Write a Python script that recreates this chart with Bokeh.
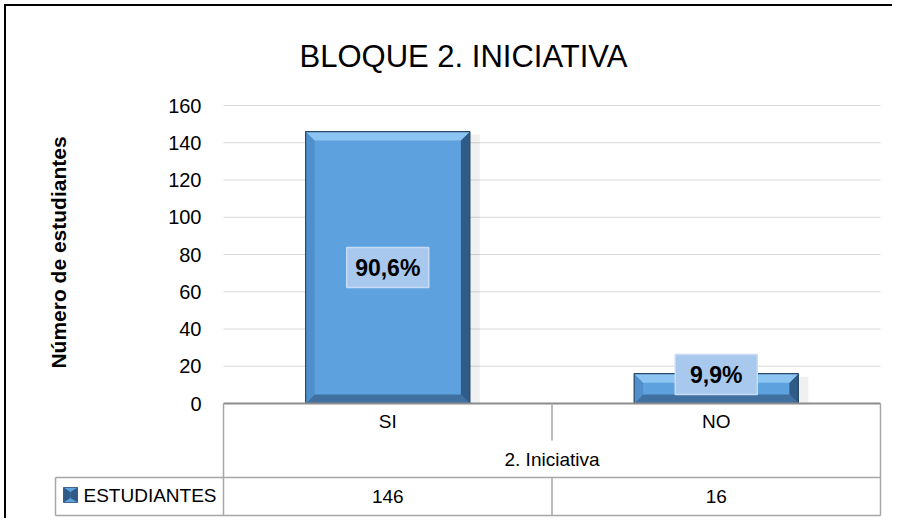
import math
from bokeh.plotting import figure
from bokeh.models import Range1d, LinearAxis, FixedTicker, Grid
from bokeh.core.properties import value
from bokeh.embed import file_html
from bokeh.resources import INLINE

# ---------------- data ----------------
categories = ["SI", "NO"]
estudiantes = [146, 16]
porcentajes = ["90,6%", "9,9%"]
y_ticks = [0, 20, 40, 60, 80, 100, 120, 140, 160]
group_label = "2. Iniciativa"
series_name = "ESTUDIANTES"
title_text = "BLOQUE 2. INICIATIVA"
y_label = "Número de estudiantes"

# ---------------- layout (page pixels) ----------------
W, H = 888, 514
TOP = 72
OFF = 6
PX0, PX1 = 223, 880          # plot area left/right
PY0, PYMAX = 403, 105        # y of value 0 and of value 160
YMAX = 160
n = len(categories)
sx = (PX1 - PX0) / n
sy = (PY0 - PYMAX) / YMAX


def dx(px):
    return (px - PX0) / sx


def dy(py):
    return (PY0 - py) / sy


FONT = value("Liberation Sans")

p = figure(width=W, height=H,
           x_range=Range1d(dx(OFF), dx(OFF + W)),
           y_range=Range1d(dy(OFF + H), dy(OFF + TOP)),
           output_backend="svg", toolbar_location=None,
           x_axis_location=None, y_axis_location=None,
           min_border_left=0, min_border_right=0, min_border_bottom=0,
           min_border_top=TOP)
for r in p.center:
    if isinstance(r, Grid):
        r.visible = False
p.outline_line_color = None
p.background_fill_color = "white"
p.border_fill_color = "white"
p.styles = {"margin-left": "4px", "margin-top": "4px",
            "border-left": "2px solid #000", "border-top": "2px solid #000"}

p.title.text = title_text
p.title.text_font = "Liberation Sans"
p.title.text_font_size = "31px"
p.title.text_font_style = "normal"
p.title.text_color = "#000000"
p.title.align = "left"
p.title.offset = 299 - OFF
p.title.standoff = 10

# y axis (fixed at category-axis start)
yaxis = LinearAxis(ticker=FixedTicker(ticks=y_ticks), fixed_location=0,
                   axis_line_color=None, major_tick_line_color=None,
                   minor_tick_line_color=None, major_tick_out=0,
                   major_label_standoff=22,
                   major_label_text_font="Liberation Sans",
                   major_label_text_font_size="20px",
                   major_label_text_color="#000000")
p.add_layout(yaxis, "left")

# gridlines
grid_ticks = [t for t in y_ticks if t > 0]
p.segment(x0=[0] * len(grid_ticks), x1=[n] * len(grid_ticks),
          y0=grid_ticks, y1=grid_ticks, line_color="#d9d9d9", line_width=1)

# bars with bevel
xc = [i + 0.5 for i in range(n)]
bw = 0.5
bx = 9 / sx
by = 9 / sy

# shadow at right
p.quad(left=[x + bw / 2 for x in xc], right=[x + bw / 2 + 10 / sx for x in xc],
       bottom=[0] * n, top=[v - 3 / sy for v in estudiantes],
       fill_color="#000000", fill_alpha=0.06, line_color=None)

p.vbar(x=xc, top=estudiantes, bottom=0, width=bw,
       fill_color="#5ea1df", line_color=None)

tops_x, tops_y, bots_x, bots_y = [], [], [], []
lefts_x, lefts_y, rights_x, rights_y = [], [], [], []
for x, v in zip(xc, estudiantes):
    x0, x1 = x - bw / 2, x + bw / 2
    y0, y1 = 0, v
    tops_x.append([x0, x1, x1 - bx, x0 + bx]); tops_y.append([y1, y1, y1 - by, y1 - by])
    bots_x.append([x0, x1, x1 - bx, x0 + bx]); bots_y.append([y0, y0, y0 + by, y0 + by])
    lefts_x.append([x0, x0, x0 + bx, x0 + bx]); lefts_y.append([y0, y1, y1 - by, y0 + by])
    rights_x.append([x1, x1, x1 - bx, x1 - bx]); rights_y.append([y0, y1, y1 - by, y0 + by])

p.patches(lefts_x, lefts_y, fill_color="#4f8fcc", line_color=None)
p.patches(rights_x, rights_y, fill_color="#2f5b86", line_color=None)
p.patches(tops_x, tops_y, fill_color="#8cc4f2", line_color=None)
p.patches(bots_x, bots_y, fill_color="#3f70a0", line_color=None)
p.vbar(x=xc, top=estudiantes, bottom=0, width=bw,
       fill_color=None, line_color="#27496c", line_width=1.2)

# data labels
min_label = dy(PY0 - 29)
label_y = [max(v / 2, min_label) for v in estudiantes]
p.rect(x=xc, y=label_y, width=82, height=40, width_units="screen",
       height_units="screen", fill_color="#a8c8ee", line_color="#c6dcf4",
       line_width=1.5)
p.text(x=xc, y=label_y, text=porcentajes, text_font=FONT,
       text_font_style="bold", text_font_size="23px", text_align="center",
       text_baseline="middle", text_color="#000000")

# axis line at zero
p.segment(x0=[0], x1=[n], y0=[0], y1=[0], line_color="#8c8c8c", line_width=2)

# data table lines
tg = "#a6a6a6"
seg = [
    (0, dy(403), 0, dy(515)),
    (n, dy(403), n, dy(515)),
    (n / 2, dy(403), n / 2, dy(440)),
    (n / 2, dy(477), n / 2, dy(515)),
    (dx(55), dy(477), n, dy(477)),
    (dx(55), dy(515), n, dy(515)),
    (dx(55), dy(477), dx(55), dy(515)),
]
p.segment(x0=[s[0] for s in seg], y0=[s[1] for s in seg],
          x1=[s[2] for s in seg], y1=[s[3] for s in seg],
          line_color=tg, line_width=1.5)

# table texts
p.text(x=xc, y=[dy(421)] * n, text=categories, text_font=FONT,
       text_font_size="19px", text_align="center", text_baseline="middle",
       text_color="#000000")
p.text(x=[n / 2], y=[dy(459)], text=[group_label], text_font=FONT,
       text_font_size="19px", text_align="center", text_baseline="middle",
       text_color="#000000")
p.text(x=xc, y=[dy(496)] * n, text=[str(v) for v in estudiantes],
       text_font=FONT, text_font_size="19px", text_align="center",
       text_baseline="middle", text_color="#000000")
p.text(x=[dx(83)], y=[dy(495)], text=[series_name], text_font=FONT,
       text_font_size="19px", text_align="left", text_baseline="middle",
       text_color="#000000")

# legend key
kx, ky = dx(70), dy(494.5)
kw, kh = 14 / sx, 15 / sy
p.rect(x=[kx], y=[ky], width=[kw], height=[kh], fill_color="#5ea1df",
       line_color="#27496c", line_width=0.8)
p.patches([[kx - kw / 2, kx - kw / 2, kx, kx], [kx + kw / 2, kx + kw / 2, kx, kx]],
          [[ky - kh / 2, ky + kh / 2, ky + kh * 0.2, ky - kh * 0.2],
           [ky - kh / 2, ky + kh / 2, ky + kh * 0.2, ky - kh * 0.2]],
          fill_color="#2f5b86", line_color=None)

# y axis title
p.text(x=[dx(58)], y=[dy(252)], text=[y_label], angle=math.pi / 2,
       text_font=FONT, text_font_style="bold", text_font_size="21px",
       text_align="center", text_baseline="middle", text_color="#000000")

open("out.html", "w").write(file_html(p, INLINE))
